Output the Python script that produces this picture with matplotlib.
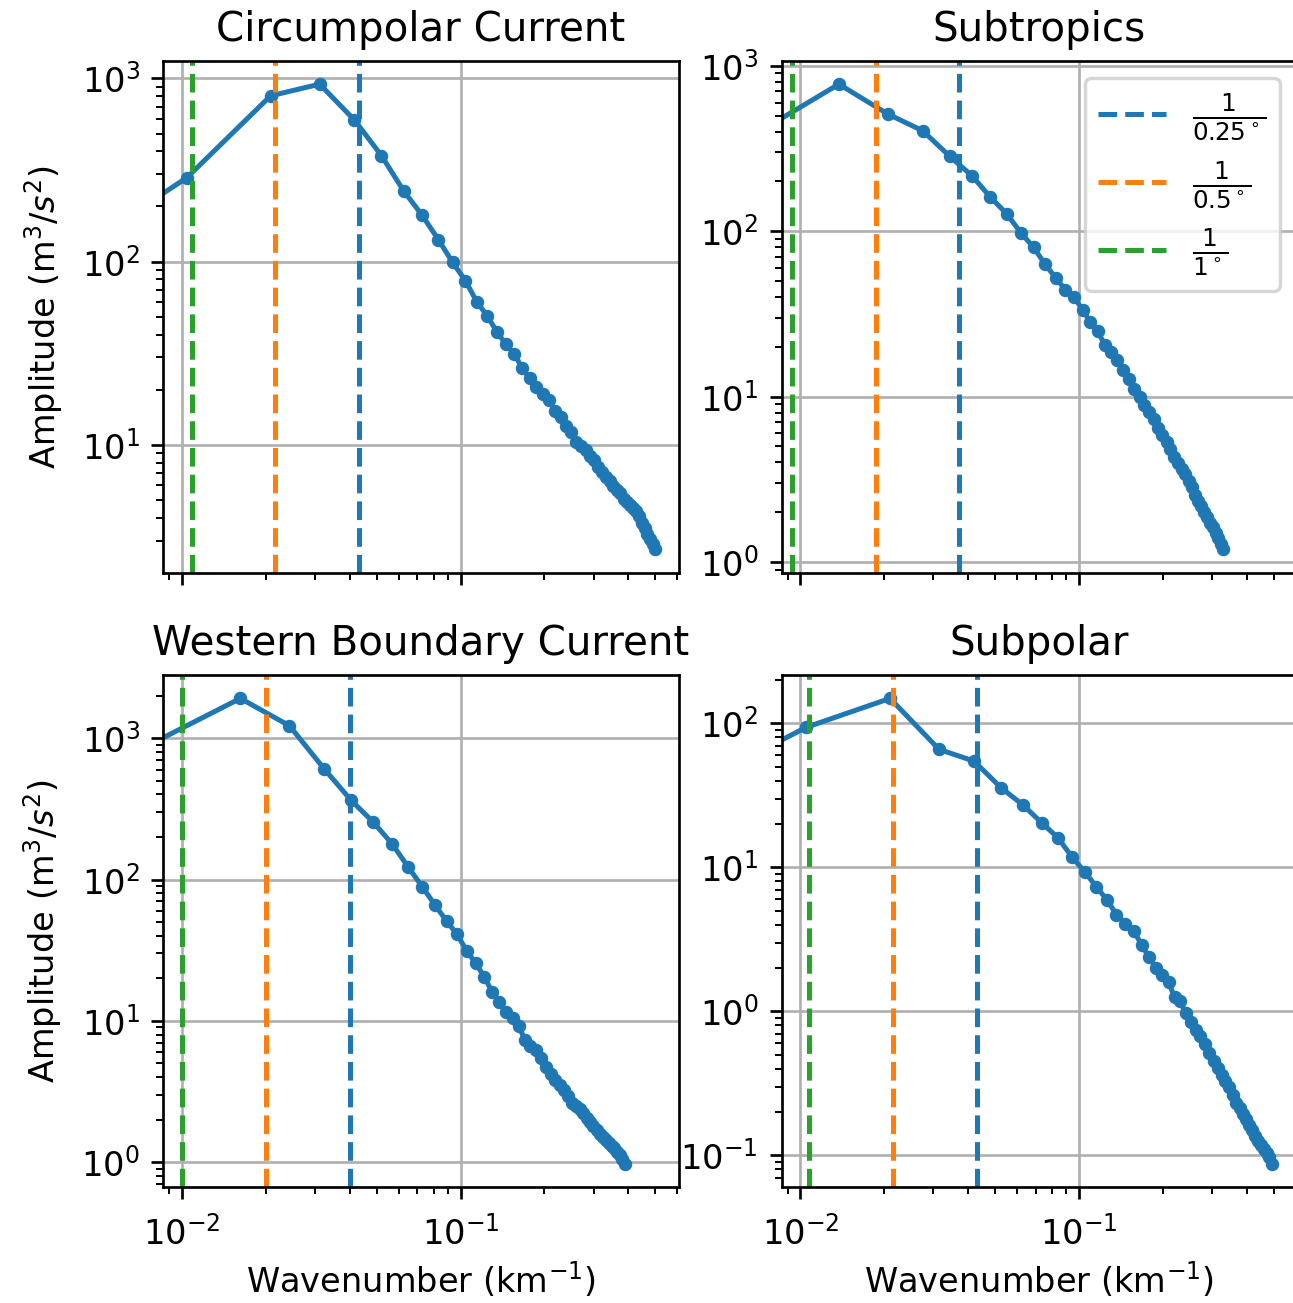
import numpy as np
import matplotlib
matplotlib.use("Agg")
import matplotlib.pyplot as plt

dpi = 242

# Regional wavenumber spectra. Each spectrum sits on a uniform grid of
# spacing dk (km^-1); bin 0 is the removed mean and carries zero amplitude.
circ_dk = 0.0104
circ_bins = [0] + list(range(1, 49))
circ_amp = [0, 287, 804, 931, 593, 379, 244, 179, 132, 99.1, 78.8, 60.3,
            50.4, 41.2, 35.3, 31.3, 26.2, 23.1, 20.8, 18.9, 17.6, 15.2, 14.1,
            12.7, 11.8, 10.4, 9.9, 9.4, 8.65, 8.26, 7.57, 7.06, 6.67, 6.31,
            5.96, 5.67, 5.46, 5.06, 4.88, 4.71, 4.49, 4.34, 4.07, 3.75, 3.52,
            3.24, 3.04, 2.88, 2.68]

subtrop_dk = 0.00688
subtrop_bins = [0] + list(range(2, 49))
subtrop_amp = [0, 775, 511, 405, 284, 217, 160.6, 127.6, 97.9, 79.9, 63.1,
               52.3, 44.3, 39.9, 33.3, 28.3, 24.9, 20.5, 18.6, 16.7, 14.4,
               12.7, 11.1, 10.0, 8.96, 8.07, 7.28, 6.47, 5.87, 5.30, 4.80,
               4.32, 3.98, 3.63, 3.40, 3.10, 2.83, 2.53, 2.33, 2.18, 2.00,
               1.87, 1.73, 1.62, 1.50, 1.40, 1.29, 1.19]

wbc_dk = 0.0081
wbc_bins = [0] + list(range(2, 49))
wbc_amp = [0, 1915, 1227, 607, 363, 255, 179.5, 123, 88.8, 65.9, 50.8, 40.9,
           31.2, 25.5, 20.6, 16.1, 13.5, 11.6, 10.4, 9.13, 7.34, 6.60, 6.19,
           5.49, 4.70, 4.18, 3.82, 3.53, 3.26, 2.95, 2.63, 2.51, 2.39, 2.22,
           2.06, 1.92, 1.80, 1.69, 1.58, 1.51, 1.44, 1.37, 1.31, 1.25, 1.18,
           1.12, 1.05, 0.975]

subpolar_dk = 0.0105
subpolar_bins = [0] + list(range(1, 48))
subpolar_amp = [0, 93.8, 149, 65.9, 54.7, 35.8, 27.1, 20.4, 16.1, 11.8, 9.28,
                7.35, 5.95, 4.70, 4.06, 3.62, 2.89, 2.38, 2.01, 1.79, 1.59,
                1.25, 1.17, 0.98, 0.844, 0.747, 0.674, 0.591, 0.513, 0.451,
                0.404, 0.363, 0.327, 0.297, 0.263, 0.232, 0.212, 0.194, 0.178,
                0.163, 0.149, 0.1355, 0.1256, 0.117, 0.110, 0.104, 0.0975,
                0.0873]

titles = ['Circumpolar Current', 'Subtropics',
          'Western Boundary Current', 'Subpolar']
# km per degree of longitude at each region's latitude
km_per_deg = [92.4, 107.3, 100.0, 92.8]

grid_res = [0.25, 0.5, 1]
res_colors = ['C0', 'C1', 'C2']
res_labels = [r'$\frac{1}{0.25^\circ}$', r'$\frac{1}{0.5^\circ}$',
              r'$\frac{1}{1^\circ}$']

spectra = [(circ_dk, circ_bins, circ_amp),
           (subtrop_dk, subtrop_bins, subtrop_amp),
           (wbc_dk, wbc_bins, wbc_amp),
           (subpolar_dk, subpolar_bins, subpolar_amp)]

fig, axes = plt.subplots(2, 2, sharex=True,
                         figsize=(1293.1 / dpi, 1303.1 / dpi), dpi=dpi)
fig.subplots_adjust(left=163.3 / 1293, right=1296.7 / 1293,
                    bottom=1 - 1187 / 1303, top=1 - 61 / 1303,
                    wspace=0.2, hspace=0.2)

for ax, title, (dk, bins, amp) in zip(axes.flat, titles, spectra):
    k = dk * np.array(bins)
    ax.loglog(k, amp, '.-')
    ax.set_title(title)
    ax.grid(True)
    ax.tick_params(axis='x', which='major', pad=5)

# keep the shared wavenumber range set by the spectra only
xlim = axes[0, 0].get_xlim()
for ax in axes.flat:
    ax.set_xlim(xlim)

for ax, km in zip(axes.flat, km_per_deg):
    for res, color, label in zip(grid_res, res_colors, res_labels):
        ax.axvline(1 / (res * km), color=color, ls='--', label=label)

leg = axes[0, 1].legend(loc='upper right')
for txt in leg.get_texts():
    txt.set_fontsize(10.5)

for ax in axes[1]:
    ax.set_xlabel('Wavenumber (km$^{-1}$)', labelpad=2.5)
for ax in axes[:, 0]:
    ax.set_ylabel('Amplitude (m$^3$/$s^2$)', labelpad=5)

fig.savefig('out.png', dpi=dpi)
